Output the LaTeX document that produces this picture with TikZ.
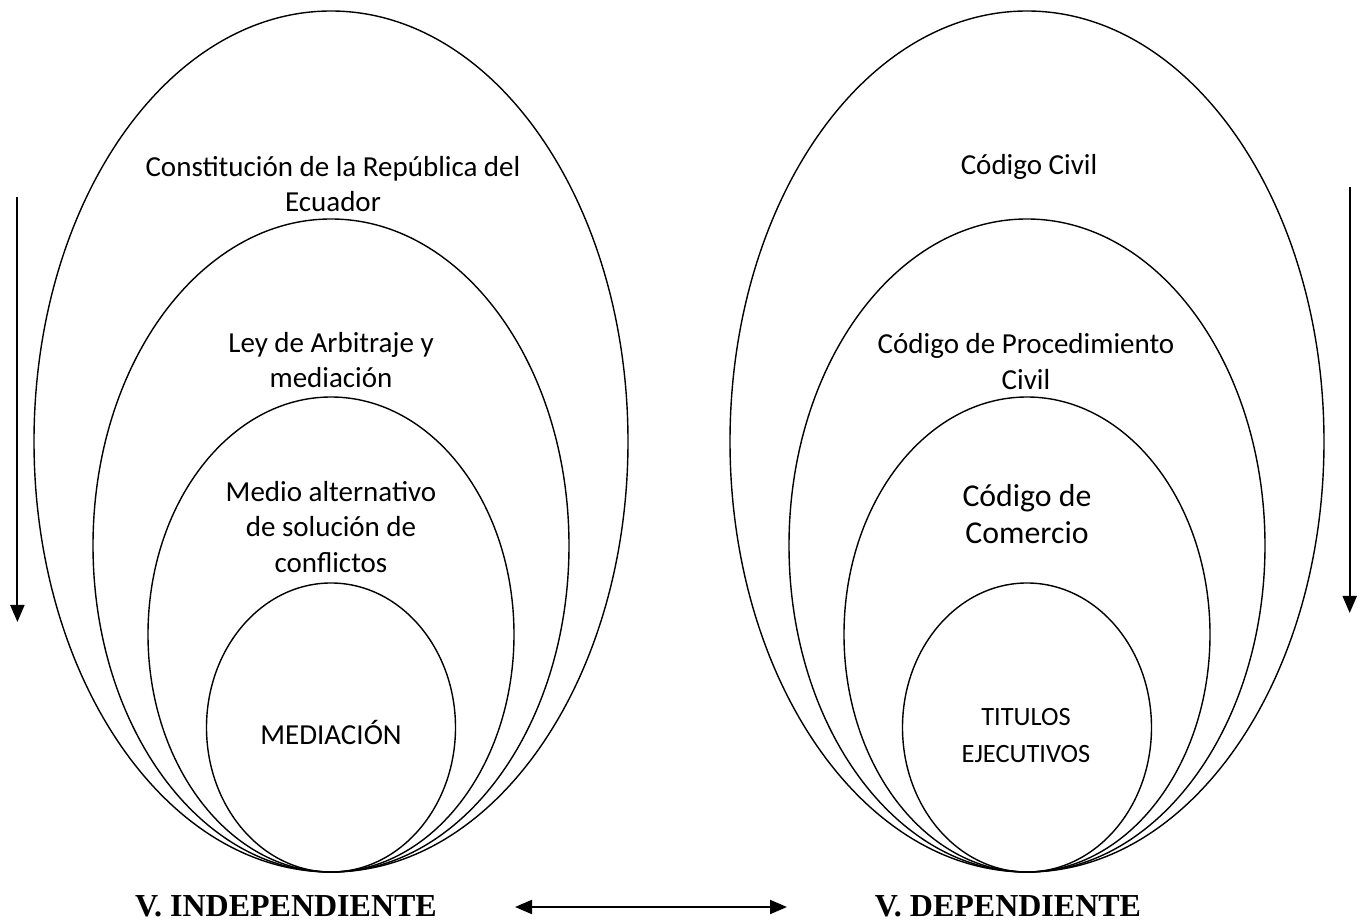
\documentclass[tikz,border=0pt]{standalone}
\usepackage{fontspec}
\setmainfont{Carlito}
\newfontfamily\timesfont{Liberation Serif}
\usetikzlibrary{shapes, arrows.meta, positioning}

\begin{document}
\begin{tikzpicture}[x=0.5pt, y=-0.5pt, >={Triangle[width=7pt,length=8.5pt]}, line width=0.7pt,
        font=\fontsize{14.5}{17.75}\selectfont]
        \tikzstyle{ring}=[ellipse, draw, inner sep=0pt, outer sep=0pt, anchor=south]
        \tikzstyle{law}=[align=center, inner sep=0pt]
        \tikzstyle{var}=[inner sep=0pt, font=\timesfont\bfseries\fontsize{16}{19}\selectfont]
        \tikzstyle{flow}=[->, line width=1pt]
        \useasboundingbox (0,0) rectangle (1367,924);
        % independiente
        \coordinate (L) at (331,872);
        \node[ring, minimum width=297pt,   minimum height=430.5pt] (A1) at (L) {};
        \node[ring, minimum width=238pt,   minimum height=326.5pt] (A2) at (L) {};
        \node[ring, minimum width=183pt,   minimum height=237.5pt] (A3) at (L) {};
        \node[ring, minimum width=124.5pt, minimum height=144.5pt] (A4) at (L) {};
        \node[law] (a1) at (333,184) {Constitución de la República del\\Ecuador};
        \node[law] (a2) at (331,360) {Ley de Arbitraje y\\mediación};
        \node[law] (a3) at (331,527) {Medio alternativo\\de solución de\\conflictos};
        \node[law] (a4) at (331,732) {MEDIACIÓN};
        % dependiente
        \coordinate (R) at (1027,872);
        \node[ring, minimum width=297pt,   minimum height=430.5pt] (B1) at (R) {};
        \node[ring, minimum width=238pt,   minimum height=326.5pt] (B2) at (R) {};
        \node[ring, minimum width=183pt,   minimum height=237.5pt] (B3) at (R) {};
        \node[ring, minimum width=124.5pt, minimum height=144.5pt] (B4) at (R) {};
        \node[law] (b1) at (1029,167) {Código Civil};
        \node[law] (b2) at (1026,361.5) {Código de Procedimiento\\Civil};
        \node[law, font=\fontsize{15.9}{18.5}\selectfont] (b3) at (1027,514.5) {Código de\\Comercio};
        \node[law, font=\fontsize{13.2}{18.5}\selectfont] (b4) at (1026,735.5) {TITULOS\\EJECUTIVOS};
        % variables
        \node[var] (VI) at (286,906) {V. INDEPENDIENTE};
        \node[var] (VD) at (1008,906) {V. DEPENDIENTE};
        \coordinate (P1) at (17.4,197);   \coordinate (P2) at (17.4,622);
        \coordinate (Q1) at (1349.7,187); \coordinate (Q2) at (1349.7,613);
        \coordinate (E1) at (515,907);    \coordinate (E2) at (787,907);
        \path
        (P1) edge[flow] (P2)
        (Q1) edge[flow] (Q2)
        (E1) edge[flow, <->] (E2);
\end{tikzpicture}
\end{document}
